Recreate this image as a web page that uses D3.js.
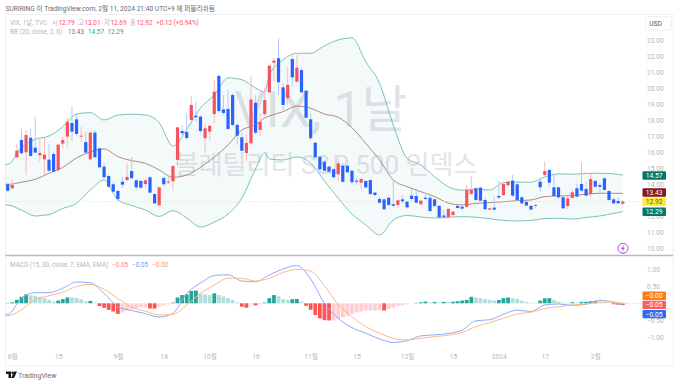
<!DOCTYPE html>
<html>
<head>
<meta charset="utf-8">
<script src="https://cdn.jsdelivr.net/npm/d3@7"></script>
<style>
  html, body { margin: 0; padding: 0; background: #fff; }
  svg { display: block; }
  text { font-family: Roboto, "Noto Sans CJK KR", sans-serif; }
</style>
</head>
<body>
<svg id="chart" width="680" height="384"></svg>
<script>
// 1. DATA ---------------------------------------------------------------
// daily candles, [open, high, low, close], 2023-07-31 .. 2024-02-09
const candles = [
  [14.00,14.08,13.54,13.60],[13.75,14.31,13.71,13.96],[15.69,16.52,15.65,16.10],[16.77,17.46,15.89,15.94],[16.00,17.39,14.58,17.08],
  [16.91,17.46,15.71,15.77],[16.29,18.21,15.96,15.98],[15.81,16.89,15.39,15.96],[15.56,16.89,14.58,15.85],[15.54,16.52,14.77,14.85],
  [15.89,16.04,14.75,14.79],[14.89,16.52,14.77,16.48],[16.54,16.98,16.27,16.77],[16.98,18.14,16.33,17.91],[17.83,18.89,16.71,17.29],
  [18.06,18.46,17.02,17.15],[16.99,17.60,16.66,17.04],[16.64,17.29,15.83,15.98],[15.56,17.29,15.46,17.23],[17.23,17.39,15.65,15.69],
  [16.25,16.27,15.02,15.06],[15.10,15.35,14.39,14.44],[14.52,14.58,13.79,13.85],[14.00,14.08,13.48,13.54],[13.58,13.65,13.02,13.08],
  [14.16,14.46,13.77,13.98],[14.27,15.33,14.16,14.46],[14.83,15.71,14.31,14.38],[14.25,14.31,13.65,13.81],[14.21,14.27,13.75,13.79],
  [14.02,14.31,13.75,14.25],[14.44,14.48,13.44,13.48],[13.39,13.44,12.77,12.81],[12.69,13.85,12.64,13.81],[14.39,14.48,13.85,14.00],
  [14.13,14.48,14.02,14.17],[14.19,15.21,13.60,15.14],[15.52,17.58,15.15,17.56],[17.33,17.71,17.02,17.19],[17.27,18.44,16.77,16.89],
  [18.02,19.52,17.77,18.96],[18.29,19.16,17.89,18.19],[18.23,18.33,17.21,17.33],[16.88,17.77,15.96,17.50],[17.29,17.71,16.77,17.65],
  [18.39,20.52,17.83,19.79],[20.77,20.89,18.46,18.58],[18.68,19.58,18.33,18.46],[18.71,19.89,17.39,17.46],[19.58,19.69,17.64,17.71],
  [17.71,17.83,16.46,17.04],[16.94,17.21,16.04,16.10],[15.96,17.08,15.48,16.58],[16.56,20.77,16.46,19.31],[19.10,19.58,17.08,17.23],
  [17.40,18.46,17.02,17.91],[18.38,20.02,18.27,19.27],[19.75,21.58,19.71,21.41],[21.60,21.90,20.41,21.73],[21.88,23.13,19.58,20.38],
  [20.06,20.33,18.65,18.96],[19.38,21.35,18.96,20.21],[21.83,21.98,20.10,20.69],[20.41,22.08,20.33,21.29],[21.14,21.27,19.69,19.75],
  [19.85,19.89,18.13,18.16],[18.06,18.44,16.77,16.88],[16.60,16.64,15.58,15.69],[15.73,15.77,14.90,14.94],[15.41,15.52,14.77,14.85],
  [15.10,15.15,14.73,14.79],[14.94,15.00,14.38,14.44],[14.63,15.63,14.16,15.31],[15.16,15.33,14.10,14.16],[15.16,15.21,14.71,14.75],
  [14.85,14.90,13.96,14.13],[14.23,14.40,13.96,14.16],[14.10,14.41,13.69,14.33],[14.21,14.27,13.75,13.81],[14.27,14.31,13.33,13.39],
  [13.48,13.54,13.23,13.33],[13.08,13.23,12.81,12.85],[13.06,13.14,12.39,12.44],[13.16,13.23,12.64,12.71],[12.75,14.27,12.60,12.66],
  [12.71,13.06,12.50,13.00],[13.06,13.33,12.81,12.94],[12.91,12.98,12.50,12.56],[13.29,13.69,12.98,13.08],[13.27,13.75,12.81,12.85],
  [12.75,13.02,12.69,12.98],[13.16,13.44,13.02,13.08],[13.16,13.23,12.29,12.33],[13.06,13.12,12.56,12.65],[12.65,12.71,11.88,11.93],
  [12.05,12.40,11.83,11.96],[11.94,12.50,11.87,12.46],[12.08,12.33,12.02,12.29],[12.65,12.71,12.50,12.52],[12.60,12.69,12.40,12.48],
  [12.60,13.96,12.50,13.65],[13.40,14.52,13.33,13.65],[13.75,13.79,12.96,13.02],[13.79,13.85,12.92,12.98],[13.02,13.12,12.40,12.44],
  [12.42,12.54,12.40,12.50],[12.54,13.23,12.35,12.42],[13.27,14.23,13.06,13.17],[13.33,14.17,13.27,14.02],[13.94,14.23,13.85,14.17],
  [14.23,14.58,13.23,13.29],[14.00,14.10,12.98,13.02],[13.19,13.23,12.77,12.81],[12.90,12.96,12.65,12.67],[12.65,12.71,12.40,12.42],
  [12.67,12.77,12.50,12.71],[14.17,14.44,13.54,13.81],[14.58,15.42,14.52,14.83],[14.90,14.94,13.85,14.10],[13.81,14.58,13.23,13.27],
  [13.81,13.85,13.12,13.19],[13.19,13.23,12.46,12.50],[12.64,13.23,12.40,13.12],[13.15,13.65,13.10,13.50],[13.75,14.06,13.19,13.23],
  [14.02,15.35,13.54,13.60],[13.71,14.17,13.27,13.29],[13.40,14.65,13.19,14.33],[14.21,14.27,13.75,13.85],[13.96,14.10,13.44,13.85],
  [14.37,14.44,13.60,13.65],[13.58,13.65,12.98,13.02],[13.06,13.19,12.77,12.81],[12.96,13.19,12.77,12.81],[12.79,13.01,12.69,12.92]
]

// bollinger bands, read at these candle positions
const bbDays = [-1,0,3,6,9,12,15,18,21,24,27,30,33,36,39,42,45,48,51,54,56,57,60,63,66,69,72,75,78,81,84,87,90,93,96,99,102,105,108,111,114,117,120,123,126,129,132,134]
const bbUpper = [15.25,15.25,16.31,16.81,17.02,17.60,18.39,18.48,18.02,18.33,18.38,18.33,17.85,16.39,17.44,18.77,19.58,20.65,20.54,20.02,19.77,20.83,21.77,22.19,22.19,22.66,23.02,23.15,21.66,20.31,17.71,15.63,15.21,14.48,13.85,13.63,13.71,13.64,14.11,14.14,14.13,14.46,14.65,14.63,14.68,14.69,14.65,14.57]
const bbMiddle = [14.00,14.00,14.13,14.31,14.69,15.06,15.65,16.02,16.21,15.73,15.48,15.31,14.89,14.44,14.58,15.06,15.69,16.46,17.39,17.71,18.15,18.27,18.54,18.89,18.75,18.39,18.19,17.54,16.56,15.52,14.27,13.85,13.54,13.23,12.83,12.71,12.81,12.85,12.91,12.98,13.02,13.23,13.27,13.29,13.38,13.44,13.44,13.43]
const bbLower = [12.70,12.70,12.39,12.02,12.11,12.49,12.81,13.64,14.27,13.02,12.68,12.39,11.99,12.35,11.89,11.33,11.64,12.14,13.14,14.96,15.96,15.58,15.52,15.71,15.33,14.21,13.14,12.14,11.46,10.83,11.77,12.05,11.96,11.89,11.94,11.98,11.94,11.85,11.74,11.71,11.74,11.86,11.88,11.83,11.93,12.02,12.18,12.29]

// macd histogram, one per candle
const macdHist = [
  .01,.03,.10,.19,.26,.24,.21,.19,.15,.10,
  .05,.08,.12,.17,.17,.16,.12,.06,.07,.02,
  -.08,-.13,-.19,-.24,-.31,-.27,-.21,-.17,-.14,-.12,
  -.12,-.15,-.155,-.10,-.06,-.03,.02,.17,.24,.26,
  .36,.37,.27,.26,.24,.29,.24,.20,.15,.10,
  .03,-.10,-.13,-.02,-.06,-.03,.02,.15,.24,.21,
  .12,.10,.12,.125,.05,-.07,-.19,-.34,-.44,-.49,
  -.50,-.50,-.46,-.41,-.37,-.31,-.27,-.24,-.21,-.21,
  -.21,-.19,-.21,-.17,-.13,-.08,-.06,-.03,0,.01,
  .03,.05,.03,.04,.02,.04,.04,.045,.06,.08,
  .10,.19,.17,.15,.12,.10,.08,.10,.15,.17,
  .15,.13,.08,.04,.02,.02,.08,.145,.15,.10,
  .05,.02,.02,.03,.02,.04,.045,.06,.07,.05,
  .03,0,-.03,-.04,-.05
]

// macd lines, read at these candle positions
const macdDays = [-1,0,3,6,9,12,15,18,21,24,27,30,33,36,39,42,45,48,51,54,57,60,63,66,69,72,75,78,81,84,87,90,93,96,99,102,105,108,111,114,117,120,123,126,129,132,134]
const macdLine = [-.32,-.32,.15,.31,.31,.44,.62,.60,.29,-.10,-.21,-.30,-.40,-.29,.29,.59,.81,.83,.65,.63,.83,1.00,1.10,.71,0,-.44,-.71,-.87,-1.04,-1.14,-1.09,-.95,-.92,-.88,-.78,-.51,-.48,-.32,-.20,-.24,-.05,-.02,-.06,-.03,.09,.03,-.05]
const signalLine = [-.36,-.36,-.19,.11,.22,.32,.49,.55,.41,.14,-.11,-.23,-.34,-.32,-.05,.29,.53,.73,.73,.65,.73,.90,.99,.94,.51,-.03,-.39,-.68,-.87,-1.02,-1.07,-1.02,-.97,-.93,-.85,-.68,-.56,-.44,-.31,-.26,-.15,-.10,-.05,-.02,.03,.04,0]

// 13.00 sits fully behind the tags in the picture
const priceTicks = [10,11,12,14,15,16,17,18,19,20,21,22,23]
const macdTicks = [1,.5,-.5,-1]
const timeTickDays = [1,11,24,34,44,54,66,76,87,97,107,117,128]
const timeTickLabels = ["8월","15","9월","18","10월","16","11월","15","12월","15","2024","17","2월"]

const titleText = "SURIRING 이 TradingView.com, 2월 11, 2024 21:40 UTC+9 에 퍼블리쉬됨"
const priceTags = [
  {label: "14.57", y: 175.5, bg: "#00796b", fg: "#fff"},
  {label: "13.43", y: 192.5, bg: "#801922", fg: "#fff"},
  {label: "12.92", y: 201.7, bg: "#ffeb3b", fg: "#555"},
  {label: "12.29", y: 211.8, bg: "#00796b", fg: "#fff"}
]
const macdTags = [
  {label: "−0.00", y: 295.8, bg: "#ff7a1a"},
  {label: "−0.05", y: 304.9, bg: "#ff5e5e"},
  {label: "−0.05", y: 314.1, bg: "#2f6bf5"}
]

// 2. DIMENSIONS ---------------------------------------------------------
const RED = "#f7525f", BLUE = "#2962ff", GREY = "#b4b6bd"
const paneLeft = 5.5, paneRight = 673, paneTop = 14.5, paneSplit = 255.5, paneBottom = 365.5
const axisX = 647

const svg = d3.select("#chart")

// 3. SCALES -------------------------------------------------------------
const x = d3.scaleLinear().domain([0, 134]).range([7.7, 622.8])
const yPrice = d3.scaleLinear().domain([10, 23]).range([248.3, 40.3])
const yMacd = d3.scaleLinear().domain([-1, 1]).range([337.6, 269])

svg.append("defs").append("clipPath").attr("id", "pane")
  .append("rect")
    .attr("x", paneLeft).attr("y", paneTop)
    .attr("width", paneRight - paneLeft).attr("height", paneBottom - paneTop)

// 4. FRAME + WATERMARK --------------------------------------------------
const frame = svg.append("g").attr("fill", "none").attr("stroke", "#eef0f3")
frame.append("rect")
  .attr("x", paneLeft).attr("y", paneTop)
  .attr("width", paneRight - paneLeft).attr("height", paneBottom - paneTop)
svg.append("line")
  .attr("x1", paneLeft).attr("x2", paneRight)
  .attr("y1", paneSplit).attr("y2", paneSplit)
  .attr("stroke", "#b8b9bf").attr("stroke-width", 1.6)

const watermark = svg.append("g").attr("fill", "#e3e4e7").attr("text-anchor", "middle")
watermark.append("text").attr("x", 321).attr("y", 127).attr("font-size", 50).text("VIX, 1날")
watermark.append("text").attr("x", 326).attr("y", 174).attr("font-size", 26).text("볼래틸리티 S&P 500 인덱스")

// 5. PRICE PANE ---------------------------------------------------------
const plot = svg.append("g").attr("clip-path", "url(#pane)")

const bbArea = d3.area()
  .x(d => x(d))
  .y0((d, i) => yPrice(bbLower[i]))
  .y1((d, i) => yPrice(bbUpper[i]))
  .curve(d3.curveMonotoneX)

plot.append("path")
  .datum(bbDays)
  .attr("d", bbArea)
  .attr("fill", "#00838f")
  .attr("fill-opacity", 0.045)

function bbLine(values, color) {
  const line = d3.line()
    .x(d => x(d))
    .y((d, i) => yPrice(values[i]))
    .curve(d3.curveMonotoneX)
  plot.append("path")
    .datum(bbDays)
    .attr("d", line)
    .attr("fill", "none")
    .attr("stroke", color)
    .attr("stroke-width", 1)
}
bbLine(bbUpper, "#78c2b6")
bbLine(bbLower, "#78c2b6")
bbLine(bbMiddle, "#b08883")

// last price line
plot.append("line")
  .attr("x1", paneLeft).attr("x2", axisX - 4)
  .attr("y1", yPrice(12.92)).attr("y2", yPrice(12.92))
  .attr("stroke", "#ffeb3b").attr("stroke-dasharray", "1 2")

const isUp = d => d[3] >= d[0]

plot.selectAll(".wick")
  .data(candles)
  .join("line")
    .attr("class", "wick")
    .attr("x1", (d, i) => x(i))
    .attr("x2", (d, i) => x(i))
    .attr("y1", d => yPrice(d[1]))
    .attr("y2", d => yPrice(d[2]))
    .attr("stroke", d => isUp(d) ? "#f9b9be" : "#b6caff")
    .attr("stroke-width", 1)

plot.selectAll(".body")
  .data(candles)
  .join("rect")
    .attr("class", "body")
    .attr("x", (d, i) => x(i) - 1.6)
    .attr("width", 3.2)
    .attr("y", d => yPrice(Math.max(d[0], d[3])))
    .attr("height", d => Math.max(1, Math.abs(yPrice(d[0]) - yPrice(d[3]))))
    .attr("fill", d => isUp(d) ? RED : BLUE)

// 6. MACD PANE ----------------------------------------------------------
function histColor(d, i) {
  const prev = i > 0 ? macdHist[i - 1] : 0
  if (d >= 0) return d > prev ? "#26a69a" : "#b2dfdb"
  return d < prev ? "#ff5252" : "#ffcdd2"
}

plot.selectAll(".hist")
  .data(macdHist)
  .join("rect")
    .attr("class", "hist")
    .attr("x", (d, i) => x(i) - 1.9)
    .attr("width", 3.8)
    .attr("y", d => yMacd(Math.max(d, 0)))
    .attr("height", d => Math.abs(yMacd(d) - yMacd(0)))
    .attr("fill", histColor)

function macdPath(values, color) {
  const line = d3.line()
    .x(d => x(d))
    .y((d, i) => yMacd(values[i]))
    .curve(d3.curveMonotoneX)
  plot.append("path")
    .datum(macdDays)
    .attr("d", line)
    .attr("fill", "none")
    .attr("stroke", color)
    .attr("stroke-width", 1)
}
macdPath(macdLine, "#8fa9fb")
macdPath(signalLine, "#fbb987")

plot.append("line")
  .attr("x1", x(134)).attr("x2", axisX - 4)
  .attr("y1", yMacd(0)).attr("y2", yMacd(0))
  .attr("stroke", "#c9cbd1").attr("stroke-dasharray", "1 2")

// 7. AXES ---------------------------------------------------------------
function styleAxis(g) {
  g.select(".domain").remove()
  g.selectAll("text")
    .attr("fill", GREY)
    .style("font-family", 'Roboto, "Noto Sans CJK KR", sans-serif')
    .style("font-size", "6.7px")
}

svg.append("g")
  .attr("transform", `translate(${axisX},0)`)
  .call(d3.axisRight(yPrice).tickValues(priceTicks).tickSize(0).tickPadding(0).tickFormat(d3.format(".2f")))
  .call(styleAxis)

svg.append("g")
  .attr("transform", `translate(${axisX},0)`)
  .call(d3.axisRight(yMacd).tickValues(macdTicks).tickSize(0).tickPadding(0).tickFormat(d => d3.format(".2f")(d).replace("-", "−")))
  .call(styleAxis)

svg.append("g")
  .attr("transform", "translate(0,354)")
  .call(d3.axisBottom(x).tickValues(timeTickDays).tickSize(0).tickPadding(0).tickFormat((d, i) => timeTickLabels[i]))
  .call(styleAxis)

// price + macd tags on the axis
function drawTags(tags) {
  tags.forEach(t => {
    svg.append("rect")
      .attr("x", 642.5).attr("y", t.y - 4.2)
      .attr("width", 23.5).attr("height", 8.4)
      .attr("rx", 1)
      .attr("fill", t.bg)
    svg.append("text")
      .attr("x", 654.2).attr("y", t.y + 2.4)
      .attr("text-anchor", "middle")
      .attr("font-size", 6.7)
      .attr("fill", t.fg || "#fff")
      .text(t.label)
  })
}
drawTags(priceTags)
drawTags(macdTags)

// USD button
svg.append("rect")
  .attr("x", 645.5).attr("y", 16.5)
  .attr("width", 26).attr("height", 13.5)
  .attr("rx", 2)
  .attr("fill", "#fff").attr("stroke", "#f0f1f3")
svg.append("text")
  .attr("x", 655.5).attr("y", 25.8)
  .attr("text-anchor", "middle")
  .attr("font-size", 6.7).attr("fill", "#555")
  .text("USD")

// 8. LEGENDS ------------------------------------------------------------
function legend(y, items) {
  items.forEach(([xPos, str, color]) => {
    svg.append("text")
      .attr("x", xPos).attr("y", y)
      .attr("font-size", 6.4)
      .attr("fill", color)
      .text(str)
  })
}

svg.append("text")
  .attr("x", 5.5).attr("y", 11)
  .attr("font-size", 6.65)
  .attr("fill", "#666a73")
  .text(titleText)

legend(25, [
  [10, "VIX, 1날, TVC", GREY],
  [52, "시", GREY], [58.5, "12.79", RED],
  [78, "고", GREY], [84.5, "13.01", RED],
  [104, "저", GREY], [110.5, "12.69", RED],
  [130, "종", GREY], [136.5, "12.92", RED],
  [156, "+0.12 (+0.94%)", RED]
])
legend(33.5, [
  [10, "BB (20, close, 2, 0)", GREY],
  [68, "13.43", "#a65a5f"],
  [88, "14.57", "#3a9d8f"],
  [107.5, "12.29", "#3a9d8f"]
])
legend(266.5, [
  [10, "MACD (15, 30, close, 7, EMA, EMA)", GREY],
  [112, "−0.05", "#ff7c7c"],
  [132, "−0.05", "#6f90fb"],
  [152, "−0.00", "#fb9c50"]
])

// 9. ICONS --------------------------------------------------------------
const bolt = svg.append("g").attr("transform", "translate(623,248.3)")
bolt.append("circle")
  .attr("r", 5).attr("fill", "#fff").attr("stroke", "#b14fc4").attr("stroke-width", 1)
bolt.append("path")
  .attr("d", "M1,-3.4 L-2,0.6 L-0.2,0.6 L-1,3.4 L2,-0.6 L0.2,-0.6 Z")
  .attr("fill", "#b14fc4")

const logo = svg.append("g").attr("fill", "#131722")
logo.append("path").attr("d", "M6,371.5 H11 V378 H8.5 V374 H6 Z")
logo.append("circle").attr("cx", 12.6).attr("cy", 372.8).attr("r", 1.2)
logo.append("path").attr("d", "M14,371.5 H17 L14,378 H11.2 Z")
svg.append("text")
  .attr("x", 18).attr("y", 378)
  .attr("font-size", 7)
  .attr("fill", "#6a6d78")
  .text("TradingView")
</script>
</body>
</html>
